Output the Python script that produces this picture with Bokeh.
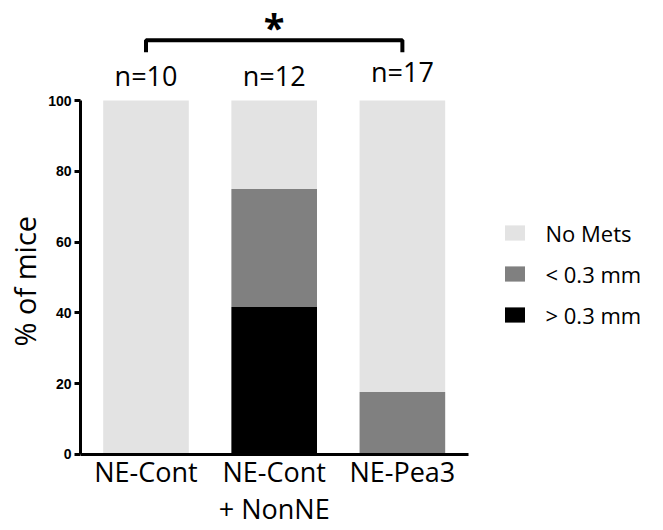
from bokeh.plotting import figure
from bokeh.models import Range1d, Legend, LegendItem, FixedTicker, ColumnDataSource, Title
from bokeh.core.properties import value
from bokeh.embed import file_html
from bokeh.resources import INLINE

# Metastasis outcome per group (% of mice)
groups = ["NE-Cont", "NE-Cont\n+ NonNE", "NE-Pea3"]
n_mice = [10, 12, 17]
mets_large = [0.0, 41.67, 0.0]     # > 0.3 mm
mets_small = [0.0, 33.33, 17.65]   # < 0.3 mm
no_mets = [100.0, 25.0, 82.35]     # No Mets
y_ticks = [0, 20, 40, 60, 80, 100]

stack_keys = ["large", "small", "none"]
stack_colors = ["#000000", "#808080", "#e3e3e3"]
stack_labels = ["> 0.3 mm", "< 0.3 mm", "No Mets"]

xpos = list(range(len(groups)))
source = ColumnDataSource(dict(x=xpos, large=mets_large, small=mets_small, none=no_mets))

FONT = "Open Sans"

# the frame fills the canvas right of the y axis; axis lines are bounded to the data region
p = figure(
    width=663, height=530,
    x_range=Range1d(-0.511, 4.037),
    y_range=Range1d(-21.47, 128.25),
    output_backend="svg", toolbar_location=None,
    min_border_left=80, min_border_right=0, min_border_top=0, min_border_bottom=0,
)
p.outline_line_color = None
p.grid.visible = False
p.background_fill_color = "white"

renderers = p.vbar_stack(stack_keys, x="x", width=0.668, color=stack_colors,
                         line_color=None, source=source)

# y axis
ya = p.yaxis[0]
ya.bounds = (0, 100)
ya.ticker = FixedTicker(ticks=y_ticks)
ya.minor_tick_line_color = None
ya.axis_line_width = 3
ya.major_tick_line_width = 3
ya.major_tick_out = 6
ya.major_tick_in = 0
ya.major_label_text_font = "Liberation Sans"
ya.major_label_text_font_style = "bold"
ya.major_label_text_font_size = "14px"
ya.major_label_text_color = "black"
ya.major_label_standoff = 3

# y axis title, placed along the 0-100 span
p.add_layout(Title(text="% of mice", align="left", offset=184, standoff=4,
                   text_font=FONT, text_font_style="normal", text_font_size="29px",
                   text_color="black"), "left")

# x axis drawn at y = 0, group names as tick labels
xa = p.xaxis[0]
xa.fixed_location = 0
xa.bounds = (-0.511, 2.519)
xa.ticker = FixedTicker(ticks=xpos)
xa.major_label_overrides = {i: g for i, g in zip(xpos, groups)}
xa.axis_line_width = 3
xa.major_tick_line_color = None
xa.minor_tick_line_color = None
xa.major_label_text_font = FONT
xa.major_label_text_font_size = "27px"
xa.major_label_text_line_height = 1.0
xa.major_label_standoff = -7
xa.major_label_text_color = "black"

# group sizes above the bars
label_y = [107.1, 107.1, 108.2]
p.text(x=xpos, y=label_y, text=[f"n={n}" for n in n_mice],
       text_font=value(FONT), text_font_size="27px",
       text_align="center", text_baseline="middle", text_color="black")

# significance bracket between first and last group
p.line(x=[xpos[0], xpos[0], xpos[2], xpos[2]],
       y=[113.6, 117.0, 117.0, 113.6], line_width=4, line_color="black")
p.text(x=[xpos[1]], y=[120.8], text=["*"],
       text_font=value(FONT), text_font_style="bold", text_font_size="38px",
       text_align="center", text_baseline="alphabetic", text_color="black")

# legend, top entry first
items = [LegendItem(label=lab, renderers=[r]) for lab, r in zip(stack_labels, renderers)][::-1]
legend = Legend(items=items, location=(421.5, 200.5), padding=0, margin=0,
                glyph_width=25, glyph_height=19, label_standoff=19, spacing=11,
                label_text_font=FONT, label_text_font_size="22px", label_text_color="black",
                border_line_color=None, background_fill_alpha=0)
p.add_layout(legend, "center")

open("out.html", "w").write(file_html(p, INLINE))
